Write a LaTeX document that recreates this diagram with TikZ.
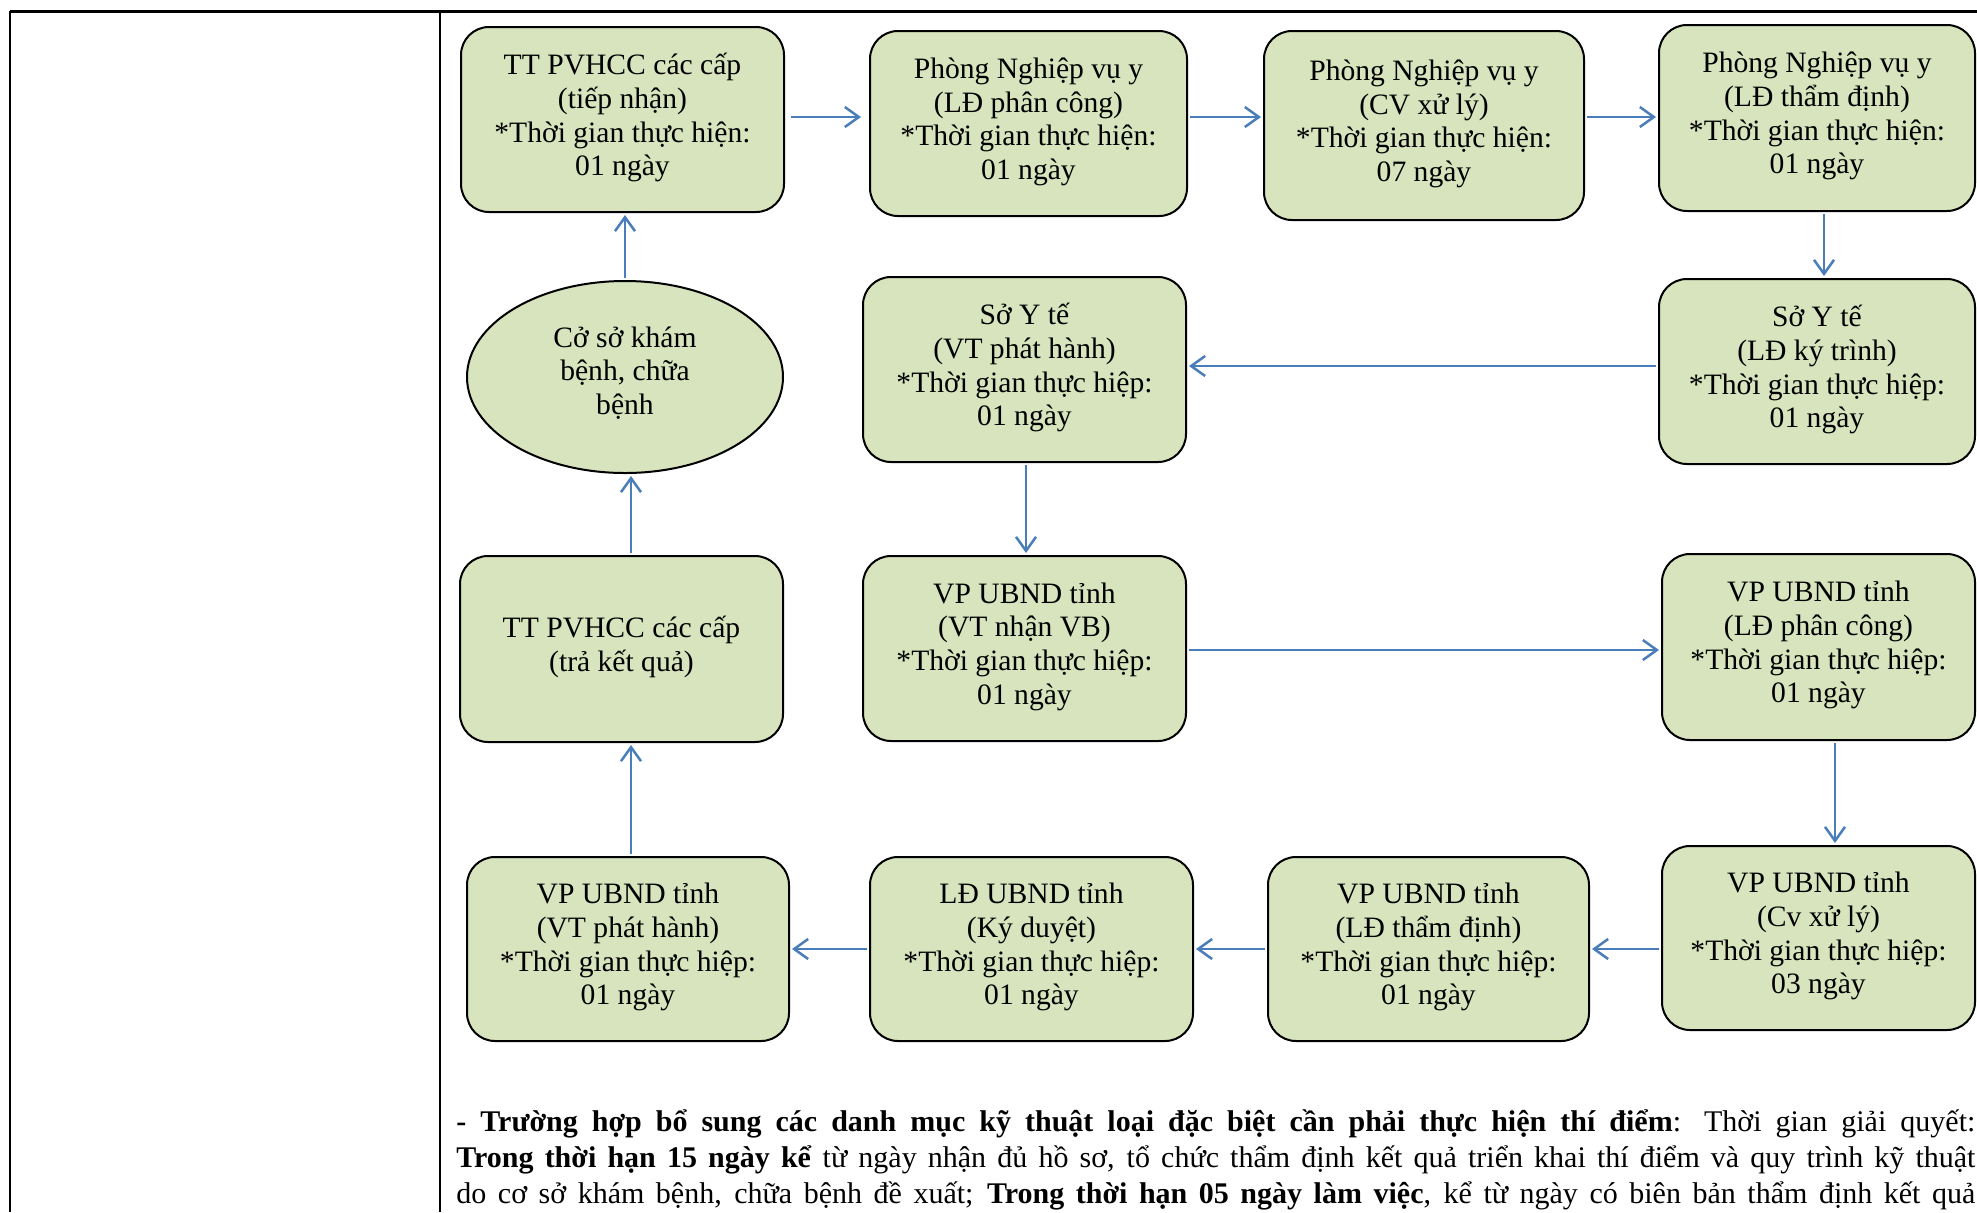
\documentclass[tikz,border=0pt]{standalone}
\usepackage{fontspec}
\setmainfont{Liberation Serif}
\usetikzlibrary{arrows.meta,shapes.geometric}
\definecolor{boxfill}{HTML}{D7E4BD}
\definecolor{arrblue}{HTML}{4A7EBB}
\newcommand\flowbox[6]{%
  \node[box, minimum width={(#4-#2)*0.5pt}, minimum height={(#5-#3)*0.5pt}]
    (#1) at ({(#2+#4)/2},{(#3+#5)/2}) {#6};}
\begin{document}
\begin{tikzpicture}[x=0.5pt,y=-0.5pt,
  box/.style={draw=black, line width=1pt, fill=boxfill, rounded corners=14pt,
    align=center, inner sep=0pt, text depth=5pt, font=\fontsize{14.8}{16.8}\selectfont},
  oval/.style={ellipse, draw=black, line width=1pt, fill=boxfill,
    align=center, inner sep=0pt, text depth=6.5pt, font=\fontsize{14.8}{16.8}\selectfont},
  arr/.style={draw=arrblue, line width=1.25pt,
    -{Straight Barb[length=7pt,width=10pt]}, shorten >=1pt, shorten <=1pt},
  para/.style={anchor=base west, inner sep=0pt, font=\fontsize{15}{18}\selectfont}]
\useasboundingbox (0,0) rectangle (1977,1212);
% table frame
\draw[line width=1.5pt] (10,11) -- (1977,11);
\draw[line width=1pt] (10,11) -- (10,1212);
\draw[line width=1pt] (440,11) -- (440,1212);
% boxes
\flowbox{B1}{461}{27}{784}{212}{TT PVHCC các cấp\\(tiếp nhận)\\*Thời gian thực hiện:\\01 ngày}
\flowbox{B2}{870}{31}{1187}{216}{Phòng Nghiệp vụ y\\(LĐ phân công)\\*Thời gian thực hiện:\\01 ngày}
\flowbox{B3}{1264}{31}{1584}{220}{Phòng Nghiệp vụ y\\(CV xử lý)\\*Thời gian thực hiện:\\07 ngày}
\flowbox{B4}{1659}{25}{1975}{211}{Phòng Nghiệp vụ y\\(LĐ thẩm định)\\*Thời gian thực hiện:\\01 ngày}
\flowbox{B5}{863}{277}{1186}{462}{Sở Y tế\\(VT phát hành)\\*Thời gian thực hiệp:\\01 ngày}
\flowbox{B6}{1659}{279}{1975}{464}{Sở Y tế\\(LĐ ký trình)\\*Thời gian thực hiệp:\\01 ngày}
\node[oval, minimum width=158pt, minimum height=96pt] (ell) at (625,377) {Cở sở khám\\bệnh, chữa\\bệnh};
\flowbox{B7}{460}{556}{783}{742}{TT PVHCC các cấp\\(trả kết quả)}
\flowbox{B8}{863}{556}{1186}{741}{VP UBND tỉnh\\(VT nhận VB)\\*Thời gian thực hiệp:\\01 ngày}
\flowbox{B9}{1662}{554}{1975}{740}{VP UBND tỉnh\\(LĐ phân công)\\*Thời gian thực hiệp:\\01 ngày}
\flowbox{B10}{467}{857}{789}{1041}{VP UBND tỉnh\\(VT phát hành)\\*Thời gian thực hiệp:\\01 ngày}
\flowbox{B11}{870}{857}{1193}{1041}{LĐ UBND tỉnh\\(Ký duyệt)\\*Thời gian thực hiệp:\\01 ngày}
\flowbox{B12}{1268}{857}{1589}{1041}{VP UBND tỉnh\\(LĐ thẩm định)\\*Thời gian thực hiệp:\\01 ngày}
\flowbox{B13}{1662}{846}{1975}{1030}{VP UBND tỉnh\\(Cv xử lý)\\*Thời gian thực hiệp:\\03 ngày}
% connectors
\draw[arr, shorten <=3pt, shorten >=4pt] ([yshift=1.25pt]B1.east) -- ([yshift=1.25pt]B1.east -| B2.west);
\draw[arr] ([yshift=3.25pt]B2.east) -- ([yshift=3.25pt]B2.east -| B3.west);
\draw[arr] ([yshift=4.25pt]B3.east) -- ([yshift=4.25pt]B3.east -| B4.west);
\draw[arr] ([xshift=3.5pt]B4.south) -- ([xshift=3.5pt]B4.south |- B6.north);
\draw[arr] ([yshift=2.75pt]B6.west) -- ([yshift=2.75pt]B6.west -| B5.east);
\draw[arr] ([xshift=0.75pt]B5.south) -- ([xshift=0.75pt]B5.south |- B8.north);
\draw[arr] ([yshift=-0.75pt]B8.east) -- ([yshift=-0.75pt]B8.east -| B9.west);
\draw[arr] ([xshift=8.25pt]B9.south) -- ([xshift=8.25pt]B9.south |- B13.north);
\draw[arr] ([yshift=-5.5pt]B13.west) -- ([yshift=-5.5pt]B13.west -| B12.east);
\draw[arr] (B12.west) -- (B12.west -| B11.east);
\draw[arr] (B11.west) -- (B11.west -| B10.east);
\draw[arr] ([xshift=1.5pt]B10.north) -- ([xshift=1.5pt]B10.north |- B7.south);
\draw[arr] ([xshift=4.75pt]B7.north) -- ([xshift=4.75pt]B7.north |- ell.south);
\draw[arr] (ell.north) -- (ell.north |- B1.south);
% paragraph below
\node[para] (p1) at (456,1131) {\makebox[759.5pt][s]{\textbf{- Trường hợp bổ sung các danh mục kỹ thuật loại đặc biệt cần phải thực hiện thí điểm}: Thời gian giải quyết:}};
\node[para] (p2) at (456,1167) {\makebox[759.5pt][s]{\textbf{Trong thời hạn 15 ngày kể} từ ngày nhận đủ hồ sơ, tổ chức thẩm định kết quả triển khai thí điểm và quy trình kỹ thuật}};
\node[para] (p3) at (456,1203) {\makebox[759.5pt][s]{do cơ sở khám bệnh, chữa bệnh đề xuất; \textbf{Trong thời hạn 05 ngày làm việc}, kể từ ngày có biên bản thẩm định kết quả}};
\end{tikzpicture}
\end{document}
